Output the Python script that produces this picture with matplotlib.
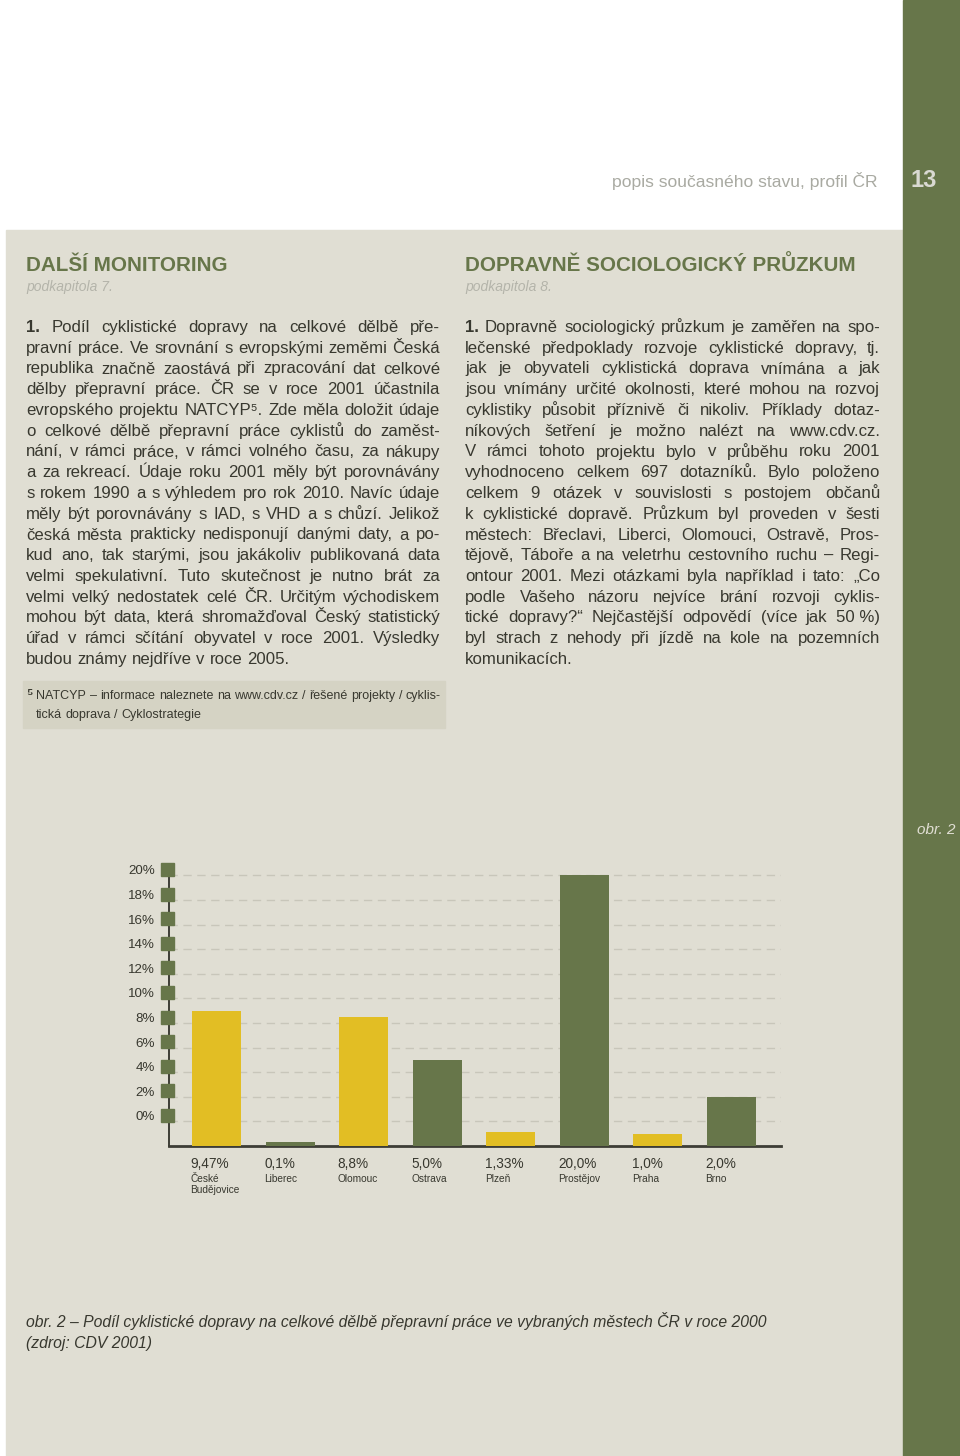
import matplotlib
matplotlib.use('Agg')
import matplotlib.pyplot as plt
from matplotlib import transforms
from matplotlib.patches import Rectangle
import numpy as np

plt.rcParams['font.family'] = ['Liberation Sans', 'DejaVu Sans']

W, H = 960, 1456
GREEN = '#67764a'
YELLOW = '#e2be24'
PAPER = '#e0ded3'
BOX = '#d5d3c4'
TXT = '#38382f'

# chart data
cities = ['České\nBudějovice', 'Liberec', 'Olomouc', 'Ostrava', 'Plzeň',
          'Prostějov', 'Praha', 'Brno']
share_labels = ['9,47%', '0,1%', '8,8%', '5,0%', '1,33%', '20,0%', '1,0%', '2,0%']
# bar tops as drawn in the source (the drawing does not follow the labels exactly)
bar_tops = [9.0, -1.65, 8.45, 5.0, -0.85, 20.0, -1.0, 2.0]
bar_colors = [YELLOW, GREEN] * 4
y_ticks = list(range(0, 21, 2))

header = 'popis současného stavu, profil ČR'
page_no = '13'
left_title = 'DALŠÍ MONITORING'
left_sub = 'podkapitola 7.'
right_title = 'DOPRAVNĚ SOCIOLOGICKÝ PRŮZKUM'
right_sub = 'podkapitola 8.'

left_lines = [
    '1. Podíl cyklistické dopravy na celkové dělbě pře-',
    'pravní práce. Ve srovnání s evropskými zeměmi Česká',
    'republika značně zaostává při zpracování dat celkové',
    'dělby přepravní práce. ČR se v roce 2001 účastnila',
    'evropského projektu NATCYP⁵. Zde měla doložit údaje',
    'o celkové dělbě přepravní práce cyklistů do zaměst-',
    'nání, v rámci práce, v rámci volného času, za nákupy',
    'a za rekreací. Údaje roku 2001 měly být porovnávány',
    's rokem 1990 a s výhledem pro rok 2010. Navíc údaje',
    'měly být porovnávány s IAD, s VHD a s chůzí. Jelikož',
    'česká města prakticky nedisponují danými daty, a po-',
    'kud ano, tak starými, jsou jakákoliv publikovaná data',
    'velmi spekulativní. Tuto skutečnost je nutno brát za',
    'velmi velký nedostatek celé ČR. Určitým východiskem',
    'mohou být data, která shromažďoval Český statistický',
    'úřad v rámci sčítání obyvatel v roce 2001. Výsledky',
    'budou známy nejdříve v roce 2005.',
]
right_lines = [
    '1. Dopravně sociologický průzkum je zaměřen na spo-',
    'lečenské předpoklady rozvoje cyklistické dopravy, tj.',
    'jak je obyvateli cyklistická doprava vnímána a jak',
    'jsou vnímány určité okolnosti, které mohou na rozvoj',
    'cyklistiky působit příznivě či nikoliv. Příklady dotaz-',
    'níkových šetření je možno nalézt na www.cdv.cz.',
    'V rámci tohoto projektu bylo v průběhu roku 2001',
    'vyhodnoceno celkem 697 dotazníků. Bylo položeno',
    'celkem 9 otázek v souvislosti s postojem občanů',
    'k cyklistické dopravě. Průzkum byl proveden v šesti',
    'městech: Břeclavi, Liberci, Olomouci, Ostravě, Pros-',
    'tějově, Táboře a na veletrhu cestovního ruchu – Regi-',
    'ontour 2001. Mezi otázkami byla například i tato: „Co',
    'podle Vašeho názoru nejvíce brání rozvoji cyklis-',
    'tické dopravy?“ Nejčastější odpovědí (více jak 50\u00a0%)',
    'byl strach z nehody při jízdě na kole na pozemních',
    'komunikacích.',
]
note_lines = [
    'NATCYP – informace naleznete na www.cdv.cz / řešené projekty / cyklis-',
    'tická doprava / Cyklostrategie',
]
caption_lines = [
    'obr. 2 – Podíl cyklistické dopravy na celkové dělbě přepravní práce ve vybraných městech ČR v roce 2000',
    '(zdroj: CDV 2001)',
]


def fx(x):
    return x / W


def fy(y):
    return 1 - y / H


fig = plt.figure(figsize=(W / 100, H / 100), dpi=100)
fig.patch.set_facecolor('white')

# page background blocks
fig.add_artist(Rectangle((fx(6), 0), fx(903) - fx(6), fy(230), transform=fig.transFigure,
                         color=PAPER, zorder=0))
fig.add_artist(Rectangle((fx(903), 0), 1 - fx(903), 1, transform=fig.transFigure,
                         color=GREEN, zorder=0))
fig.add_artist(Rectangle((fx(23), fy(728)), fx(445) - fx(23), fy(681) - fy(728),
                         transform=fig.transFigure, color=BOX, zorder=0))

fig.text(fx(878), fy(187), header, ha='right', va='baseline', fontsize=12.6, color='#a9aaa2')
fig.text(fx(923.5), fy(187), page_no, ha='center', va='baseline', fontsize=17,
         fontweight='bold', color='#d9d9d2')

for x0, title, sub in [(26, left_title, left_sub), (465, right_title, right_sub)]:
    fig.text(fx(x0), fy(271), title, ha='left', va='baseline', fontsize=14.9,
             fontweight='bold', color=GREEN)
    fig.text(fx(x0), fy(291), sub, ha='left', va='baseline', fontsize=10,
             style='italic', color='#b4b4aa')

renderer = fig.canvas.get_renderer()


def justified(lines, x0, x1, y0, step, size, bold_first=True):
    space = 0.278 * size * 100 / 72
    for k, line in enumerate(lines):
        words = line.split(' ')
        items = []
        for j, w in enumerate(words):
            bold = bold_first and k == 0 and j == 0
            t = fig.text(0, fy(y0 + k * step), w, fontsize=size, color=TXT,
                         fontweight='bold' if bold else 'normal',
                         ha='left', va='baseline')
            items.append(t)
        widths = [t.get_window_extent(renderer).width for t in items]
        if k == len(lines) - 1 or len(words) < 2:
            gap = space
        else:
            gap = max((x1 - x0 - sum(widths)) / (len(words) - 1), 0.5 * space)
        x = x0
        for t, w in zip(items, widths):
            t.set_x(fx(x))
            x += w + gap


justified(left_lines, 26, 440, 332, 20.75, 12.1)
justified(right_lines, 465, 880, 332, 20.75, 12.1)

fig.text(fx(26), fy(698), '⁵', fontsize=10, fontweight='bold', color=TXT,
         ha='left', va='baseline')
justified(note_lines, 36, 441, 699, 19, 9, bold_first=False)

for k, line in enumerate(caption_lines):
    fig.text(fx(26), fy(1327 + k * 21), line, ha='left', va='baseline', fontsize=11.3,
             style='italic', color=TXT)

fig.text(fx(917), fy(834), 'obr. 2', ha='left', va='baseline', fontsize=11,
         style='italic', color=PAPER)

# chart
ax = fig.add_axes([fx(169), fy(1146), fx(781) - fx(169), fy(869.5) - fy(1146)])
ax.patch.set_alpha(0)
x = np.arange(len(cities))
bw = 0.666
ax.bar(x, np.array(bar_tops) + 2, bottom=-2, width=bw, color=bar_colors, zorder=3)
ax.set_xlim(-0.646, 7.673)
ax.set_ylim(-2, 20.48)

ax.set_yticks(y_ticks)
ax.yaxis.grid(True, color='#c8c6ba', linestyle=(0, (6, 4)), linewidth=1)
ax.set_axisbelow(True)
ax.tick_params(axis='both', length=0, labelleft=False, labelbottom=False)
ax.set_xticks([])
for s in ['top', 'right']:
    ax.spines[s].set_visible(False)
ax.spines['left'].set_color('#3d3d35')
ax.spines['left'].set_linewidth(1.4)
ax.spines['bottom'].set_color('#3d3d35')
ax.spines['bottom'].set_linewidth(2)

sq = transforms.offset_copy(ax.get_yaxis_transform(), fig=fig, x=-2.5, y=6.5, units='dots')
ax.plot(np.zeros(len(y_ticks)), y_ticks, ls='none', marker='s', ms=13 * 0.72,
        color=GREEN, transform=sq, clip_on=False, zorder=4)
lab = transforms.offset_copy(ax.get_yaxis_transform(), fig=fig, x=-14, y=4, units='dots')
for v in y_ticks:
    ax.text(0, v, f'{v}%', transform=lab, ha='right', va='center', fontsize=9.6, color=TXT)

for i in range(len(cities)):
    ax.annotate(share_labels[i], xy=(x[i] - bw / 2, 0), xycoords=('data', 'axes fraction'),
                xytext=(-1.5, -18), textcoords='offset pixels', ha='left', va='center',
                fontsize=9.8, color=TXT, annotation_clip=False)
    ax.annotate(cities[i], xy=(x[i] - bw / 2, 0), xycoords=('data', 'axes fraction'),
                xytext=(-1.5, -28), textcoords='offset pixels', ha='left', va='top',
                fontsize=7.3, color=TXT, linespacing=1.1, annotation_clip=False)

fig.savefig('out.png', dpi=100, facecolor=fig.get_facecolor())
